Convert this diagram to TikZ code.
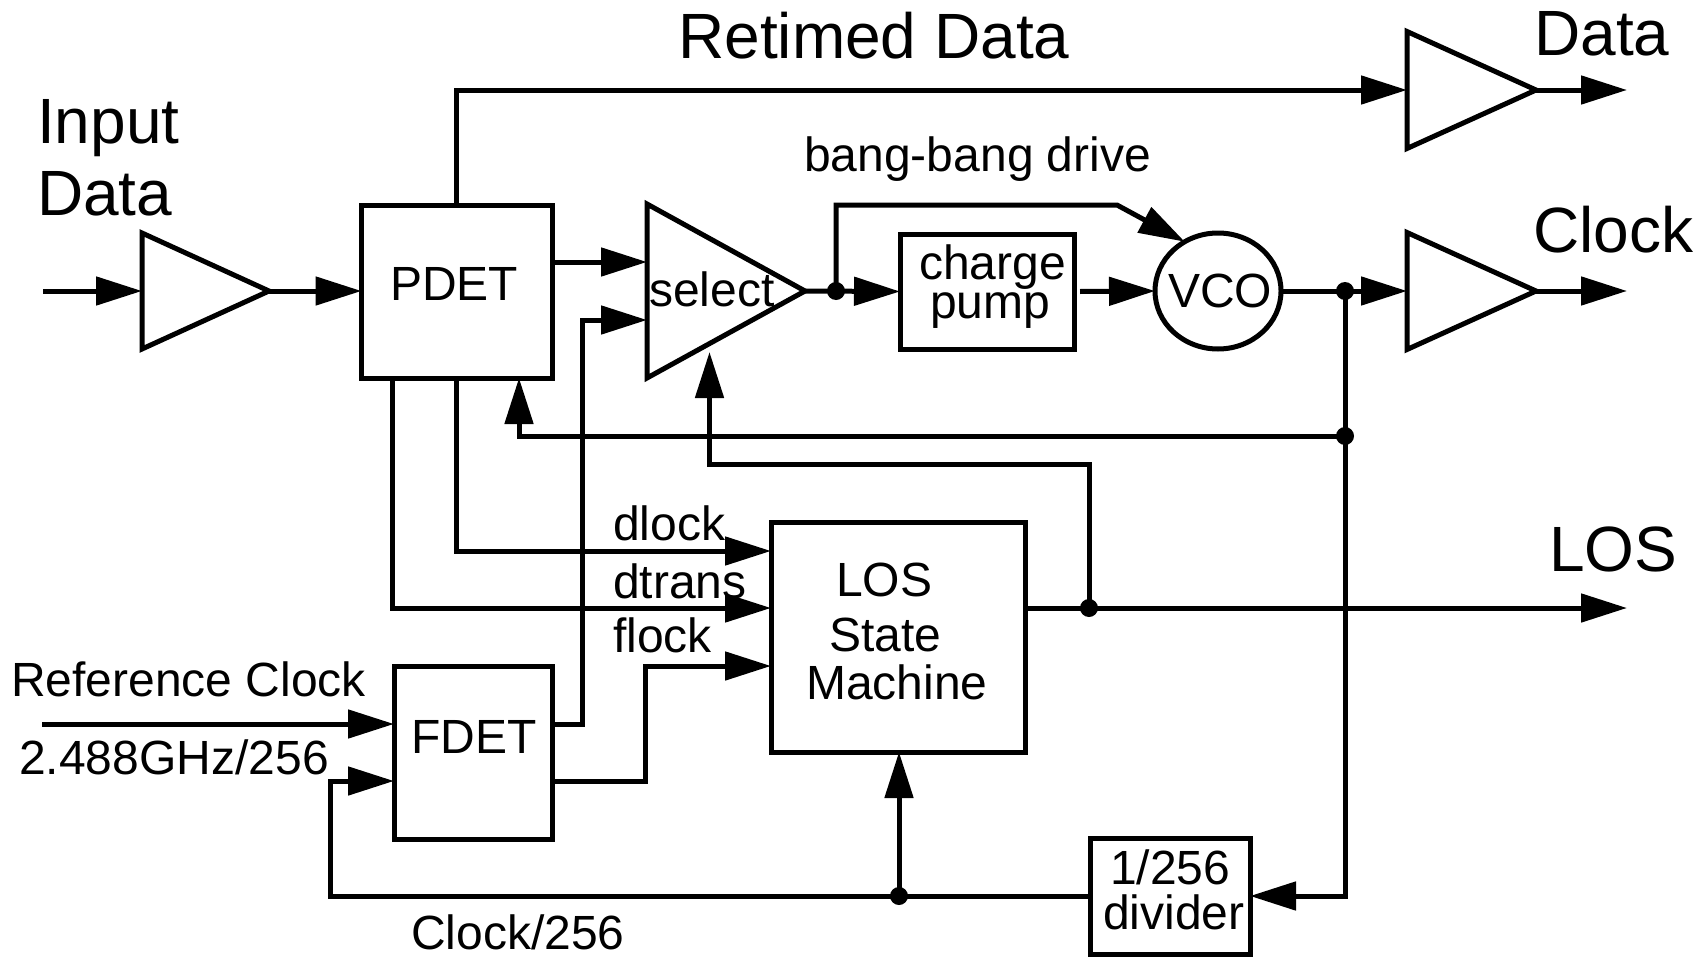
\documentclass[tikz,border=0pt]{standalone}
\usepackage{fontspec}
\setmainfont{Liberation Sans}
\usetikzlibrary{arrows.meta,shapes.geometric}
\tikzset{
	sig/.style={line width=5pt,-{Triangle[length=46pt,width=28pt]}},
	wire/.style={line width=5pt},
	blockbox/.style={draw,line width=5pt,rectangle,inner sep=0pt,outer sep=0pt},
	amp/.style={draw,line width=5pt,shape=isosceles triangle,isosceles triangle stretches,inner sep=0pt,outer sep=0pt,anchor=lower side},
	jdot/.style={circle,fill=black,inner sep=0pt,minimum size=18pt},
	lab/.style={anchor=base west,inner sep=0pt,font=\fontsize{48}{48}\selectfont},
	biglab/.style={anchor=base west,inner sep=0pt,font=\fontsize{64}{64}\selectfont}
}
\begin{document}
\begin{tikzpicture}[x=1pt,y=-1pt]
		\useasboundingbox (0,0) rectangle (1705,958);

		\node[amp,minimum height=127pt,minimum width=116pt] (ampin) at (142,291) {};
		\node[amp,minimum height=158pt,minimum width=174pt] (sel) at (647,291) {};
		\node[amp,minimum height=129pt,minimum width=117pt] (ampdata) at (1407,90) {};
		\node[amp,minimum height=129pt,minimum width=117pt] (ampclk) at (1407,291) {};
		\node[blockbox,minimum width=191pt,minimum height=173pt] (pdet) at (457,291.5) {};
		\node[blockbox,minimum width=174pt,minimum height=115pt] (pump) at (987,291.5) {};
		\node[draw,line width=5pt,ellipse,inner sep=0pt,outer sep=0pt,minimum width=126pt,minimum height=116pt] (vco) at (1218,291) {};
		\node[blockbox,minimum width=254pt,minimum height=230pt] (los) at (898,637) {};
		\node[blockbox,minimum width=158pt,minimum height=173pt] (fdet) at (473,752.5) {};
		\node[blockbox,minimum width=160pt,minimum height=116pt] (divider) at (1170,896) {};

		\node[jdot] (dotb) at (836,291) {};
		\node[jdot] (dotc) at (1345,291) {};
		\node[jdot] (dotf) at (1345,436) {};
		\node[jdot] (dotl) at (1089,608) {};
		\node[jdot] (dotd) at (899,896) {};

		\coordinate (datain) at (43,291);
		\coordinate (refin) at (42,724);
		\coordinate (dataout) at (1627,90);
		\coordinate (clkout) at (1627,291);
		\coordinate (losout) at (1627,608);
		\coordinate (selhi) at (0,262);
		\coordinate (sello) at (0,320);
		\coordinate (selbot) at (709.5,352);
		\coordinate (fbpdet) at (519,436);
		\coordinate (fbsel) at (709.5,464);
		\coordinate (bangbend) at (1117,205);
		\coordinate (fdetlo) at (0,781);
		\coordinate (fdethi) at (0,724);
		\coordinate (dlockin) at (0,551);
		\coordinate (dtransin) at (0,608);
		\coordinate (flockin) at (0,666);
		\coordinate (lockbus) at (582,320);
		\coordinate (flockbus) at (645,781);
		\coordinate (retbus) at (456,90);
		\coordinate (divbus) at (330,896);

		% data path
		\draw[sig] (datain) -- (ampin.lower side);
		\draw[sig] (ampin.apex) -- (ampin.apex -| pdet.west);
		\draw[sig] (pdet.north -| retbus) -- (retbus) -- (ampdata.lower side);
		\draw[sig] (ampdata.apex) -- (dataout);
		\draw[sig] (pdet.east |- selhi) -- (sel.lower side |- selhi);
		\draw[sig] (sel.apex) -- (pump.west);
		\draw[sig] ([xshift=6pt]pump.east) -- (vco.west);
		\draw[sig] (dotb.center) |- (bangbend) -- (vco.124);
		\draw[sig] (vco.east) -- (ampclk.lower side);
		\draw[sig] (ampclk.apex) -- (clkout);

		% feedback
		\draw[wire] (dotc.center) -- (dotf.center);
		\draw[sig] (dotf.center) -- (fbpdet) -- (fbpdet |- pdet.south);
		\draw[sig] (dotl.center) |- (fbsel) -- (selbot);
		\draw[sig] (dotf.center) |- (divider.east);

		% lock signals
		\draw[sig] (pdet.south -| retbus) |- (los.west |- dlockin);
		\draw[sig] (392,378) |- (los.west |- dtransin);
		\draw[sig] (fdet.east |- fdetlo) -| (flockbus |- flockin) -- (los.west |- flockin);
		\draw[sig] (fdet.east |- fdethi) -| (lockbus) -- (lockbus -| sel.lower side);
		\draw[sig] (los.east |- losout) -- (losout);
		\draw[sig] (refin) -- (refin -| fdet.west);
		\draw[sig] (divider.west) -- (divbus) |- (fdet.west |- fdetlo);
		\draw[sig] (dotd.center) -- (dotd |- los.south);

		\node[biglab] (tretimed) at (678,59) {Retimed Data};
		\node[biglab] (tinput) at (37,143) {Input};
		\node[biglab] (tindata) at (37,215) {Data};
		\node[biglab] (tdata) at (1534,56) {Data};
		\node[biglab] (tclock) at (1533,252) {Clock};
		\node[biglab] (tlos) at (1549,571) {LOS};

		\node[lab] (tbang) at (804,171) {bang-bang drive};
		\node[lab] (tpdet) at (390,300) {PDET};
		\node[lab] (tsel) at (649,306) {select};
		\node[lab] (tcharge) at (919,279) {charge};
		\node[lab] (tpump) at (930,318) {pump};
		\node[lab] (tvco) at (1168,307) {VCO};
		\node[lab] (tdlock) at (613,540) {dlock};
		\node[lab] (tdtrans) at (613,598) {dtrans};
		\node[lab] (tflock) at (613,652) {flock};
		\node[lab] (tlosa) at (836,596) {LOS};
		\node[lab] (tlosb) at (829,651) {State};
		\node[lab] (tlosc) at (806,699) {Machine};
		\node[lab] (tref) at (11,696) {Reference Clock};
		\node[lab] (tghz) at (19,774) {2.488GHz/256};
		\node[lab] (tfdet) at (411,753) {FDET};
		\node[lab] (tdiva) at (1110,884) {1/256};
		\node[lab] (tdivb) at (1103,929) {divider};
		\node[lab] (tclk) at (411,949) {Clock/256};
	\end{tikzpicture}
\end{document}
